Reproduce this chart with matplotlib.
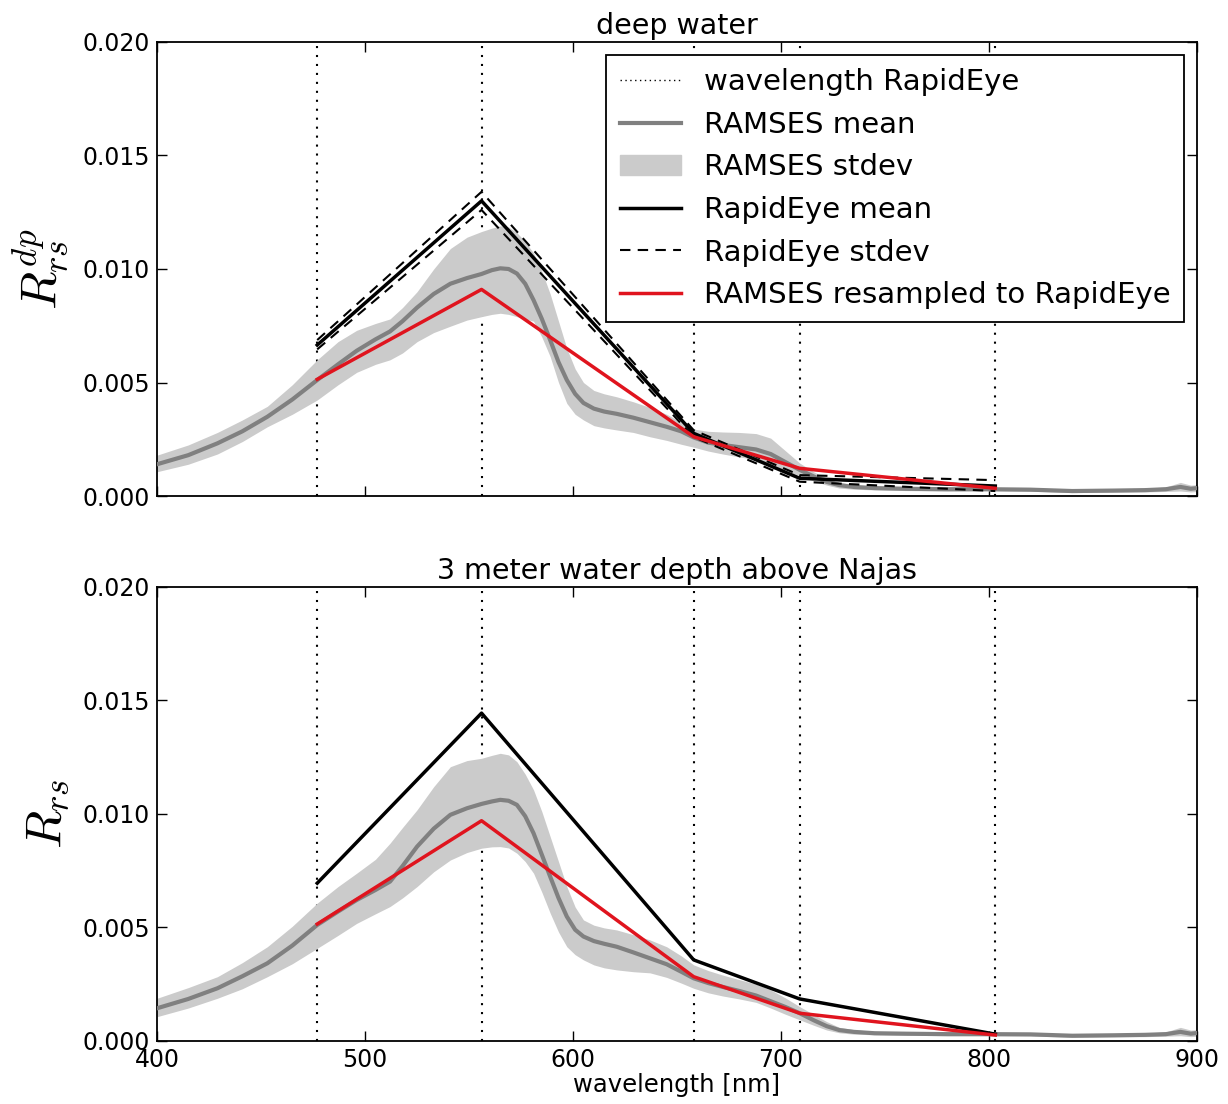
import matplotlib
matplotlib.use("Agg")
import matplotlib.pyplot as plt
from matplotlib.patches import Patch
from matplotlib.lines import Line2D

# ---------------- data ----------------
wl = [400, 415, 429, 441, 453, 465, 477, 487, 496, 505, 512, 518, 525, 533, 541, 549,
      556, 561, 565, 569, 573, 577, 581, 585, 589, 593, 597, 601, 605, 610, 615, 621,
      629, 637, 645, 652, 658, 665, 672, 680, 688, 695, 702, 709, 716, 722, 728, 735,
      745, 760, 780, 800, 820, 840, 860, 875, 885, 892, 897, 900]

deep_mean = [0.00140, 0.00180, 0.00232, 0.00285, 0.00349, 0.00425, 0.00511, 0.00580,
             0.00640, 0.00690, 0.00725, 0.00770, 0.00830, 0.00890, 0.00935, 0.00960,
             0.00978, 0.00995, 0.01003, 0.01000, 0.00980, 0.00935, 0.00863, 0.00780,
             0.00687, 0.00590, 0.00511, 0.00450, 0.00410, 0.00385, 0.00372, 0.00362,
             0.00345, 0.00325, 0.00305, 0.00285, 0.00258, 0.00235, 0.00225, 0.00215,
             0.00205, 0.00185, 0.00150, 0.00115, 0.00085, 0.00062, 0.00048, 0.00040,
             0.00035, 0.00032, 0.00030, 0.00030, 0.00028, 0.00022, 0.00024, 0.00026,
             0.00030, 0.00040, 0.00032, 0.00035]
deep_upper = [0.00180, 0.00225, 0.00280, 0.00335, 0.00395, 0.00490, 0.00600, 0.00680,
              0.00730, 0.00760, 0.00780, 0.00830, 0.00900, 0.01000, 0.01090, 0.01140,
              0.01165, 0.01180, 0.01190, 0.01185, 0.01160, 0.01120, 0.01070, 0.00990,
              0.00890, 0.00770, 0.00650, 0.00560, 0.00500, 0.00465, 0.00450, 0.00437,
              0.00415, 0.00390, 0.00360, 0.00325, 0.00295, 0.00285, 0.00282, 0.00280,
              0.00275, 0.00255, 0.00200, 0.00145, 0.00105, 0.00078, 0.00060, 0.00050,
              0.00043, 0.00040, 0.00038, 0.00037, 0.00035, 0.00030, 0.00032, 0.00034,
              0.00040, 0.00060, 0.00048, 0.00050]
deep_lower = [0.00107, 0.00140, 0.00185, 0.00240, 0.00305, 0.00360, 0.00423, 0.00490,
              0.00545, 0.00580, 0.00600, 0.00630, 0.00680, 0.00720, 0.00748, 0.00775,
              0.00790, 0.00800, 0.00805, 0.00800, 0.00790, 0.00780, 0.00770, 0.00700,
              0.00614, 0.00500, 0.00408, 0.00360, 0.00335, 0.00310, 0.00300, 0.00291,
              0.00280, 0.00261, 0.00245, 0.00228, 0.00215, 0.00198, 0.00185, 0.00172,
              0.00160, 0.00135, 0.00110, 0.00090, 0.00065, 0.00048, 0.00035, 0.00030,
              0.00027, 0.00024, 0.00022, 0.00023, 0.00021, 0.00015, 0.00017, 0.00018,
              0.00020, 0.00022, 0.00018, 0.00020]

najas_mean = [0.00144, 0.00185, 0.00232, 0.00285, 0.00342, 0.00420, 0.00511, 0.00570,
              0.00621, 0.00665, 0.00702, 0.00770, 0.00856, 0.00935, 0.00996, 0.01025,
              0.01044, 0.01055, 0.01062, 0.01058, 0.01040, 0.00990, 0.00915, 0.00820,
              0.00724, 0.00630, 0.00548, 0.00490, 0.00460, 0.00440, 0.00428, 0.00415,
              0.00390, 0.00364, 0.00338, 0.00305, 0.00276, 0.00255, 0.00238, 0.00220,
              0.00200, 0.00175, 0.00150, 0.00122, 0.00090, 0.00065, 0.00048, 0.00040,
              0.00034, 0.00032, 0.00030, 0.00030, 0.00029, 0.00023, 0.00025, 0.00027,
              0.00030, 0.00040, 0.00032, 0.00035]
najas_upper = [0.00188, 0.00235, 0.00283, 0.00345, 0.00415, 0.00505, 0.00607, 0.00680,
               0.00739, 0.00800, 0.00871, 0.00940, 0.01018, 0.01120, 0.01208, 0.01235,
               0.01245, 0.01258, 0.01267, 0.01260, 0.01230, 0.01175, 0.01106, 0.01010,
               0.00900, 0.00790, 0.00680, 0.00590, 0.00533, 0.00510, 0.00498, 0.00489,
               0.00468, 0.00445, 0.00415, 0.00375, 0.00335, 0.00310, 0.00290, 0.00270,
               0.00250, 0.00225, 0.00190, 0.00151, 0.00115, 0.00085, 0.00060, 0.00050,
               0.00042, 0.00040, 0.00038, 0.00037, 0.00036, 0.00030, 0.00032, 0.00035,
               0.00040, 0.00060, 0.00048, 0.00050]
najas_lower = [0.00107, 0.00145, 0.00188, 0.00230, 0.00283, 0.00340, 0.00408, 0.00465,
               0.00518, 0.00560, 0.00592, 0.00630, 0.00680, 0.00745, 0.00797, 0.00830,
               0.00849, 0.00855, 0.00856, 0.00850, 0.00827, 0.00790, 0.00739, 0.00655,
               0.00563, 0.00480, 0.00415, 0.00380, 0.00357, 0.00335, 0.00322, 0.00313,
               0.00305, 0.00300, 0.00280, 0.00255, 0.00232, 0.00212, 0.00198, 0.00185,
               0.00170, 0.00145, 0.00118, 0.00093, 0.00068, 0.00048, 0.00036, 0.00030,
               0.00027, 0.00025, 0.00023, 0.00023, 0.00022, 0.00016, 0.00018, 0.00019,
               0.00021, 0.00023, 0.00019, 0.00021]

bands = [477, 556, 658, 709, 803]
deep_re_mean = [0.00665, 0.01300, 0.00276, 0.00078, 0.00044]
deep_re_upper = [0.00687, 0.01340, 0.00290, 0.00092, 0.00070]
deep_re_lower = [0.00646, 0.01260, 0.00260, 0.00063, 0.00022]
deep_resampled = [0.00514, 0.00910, 0.00261, 0.00122, 0.00034]

najas_re_mean = [0.00695, 0.01444, 0.00357, 0.00185, 0.00030]
najas_resampled = [0.00515, 0.00970, 0.00283, 0.00122, 0.00026]

titles = ["deep water", "3 meter water depth above Najas"]
ylabels = [r"$R_{rs}^{dp}$", r"$R_{rs}$"]
xticks = [400, 500, 600, 700, 800, 900]
yticks = [0.000, 0.005, 0.010, 0.015, 0.020]
legend_labels = ["wavelength RapidEye", "RAMSES mean", "RAMSES stdev", "RapidEye mean",
                 "RapidEye stdev", "RAMSES resampled to RapidEye"]

# ---------------- style ----------------
plt.rcParams['font.family'] = ['DejaVu Sans']
plt.rcParams['mathtext.fontset'] = 'cm'
TICK_FS = 17
TITLE_FS = 20.5
LEG_FS = 21
XLAB_FS = 17.5
YLAB_FS = 36
GRAY = '#808080'
BAND = '#cbcbcb'
RED = '#e0141e'
DOT = (0, (1, 3.3))
DASH = (0, (5, 3.5))

fig = plt.figure(figsize=(12.28, 11.04), dpi=100)
ax1 = fig.add_axes([0.1279, 0.5507, 0.8469, 0.4113])
ax2 = fig.add_axes([0.1279, 0.0571, 0.8469, 0.4113])


def style(ax):
    ax.set_xlim(400, 900)
    ax.set_ylim(0, 0.02)
    ax.set_xticks(xticks)
    ax.set_yticks(yticks)
    ax.set_yticklabels([f"{v:.3f}" for v in yticks])
    ax.tick_params(direction='in', top=True, right=True, length=7, width=1,
                   labelsize=TICK_FS, pad=5)
    for s in ax.spines.values():
        s.set_linewidth(1.3)


# top panel
ax = ax1
for b in bands:
    ax.axvline(b, color='black', ls=DOT, lw=1.5, zorder=1)
ax.fill_between(wl, deep_lower, deep_upper, color=BAND, lw=0, zorder=2)
ax.plot(wl, deep_mean, color=GRAY, lw=3, zorder=3)
ax.plot(bands, deep_re_mean, color='black', lw=2.5, zorder=4)
ax.plot(bands, deep_re_upper, color='black', ls=DASH, lw=1.5, zorder=4)
ax.plot(bands, deep_re_lower, color='black', ls=DASH, lw=1.5, zorder=4)
ax.plot(bands, deep_resampled, color=RED, lw=2.5, zorder=5)
style(ax)
ax.set_xticklabels([])
ax.set_title(titles[0], fontsize=TITLE_FS, pad=6)
ax.set_ylabel(ylabels[0], fontsize=YLAB_FS, labelpad=8)

handles = [Line2D([], [], color='black', ls=(0, (1, 2.5)), lw=1.0),
           Line2D([], [], color=GRAY, lw=3),
           Patch(facecolor=BAND, edgecolor=BAND),
           Line2D([], [], color='black', lw=2.5),
           Line2D([], [], color='black', ls=DASH, lw=1.5),
           Line2D([], [], color=RED, lw=2.5)]
leg = ax.legend(handles, legend_labels, loc='upper right', fontsize=LEG_FS, fancybox=False,
                framealpha=1, edgecolor='black', handlelength=2.1, borderaxespad=0.45,
                labelspacing=0.5, handletextpad=0.8, borderpad=0.45)
leg.get_frame().set_linewidth(1.3)

# bottom panel
ax = ax2
for b in bands:
    ax.axvline(b, color='black', ls=DOT, lw=1.5, zorder=1)
ax.fill_between(wl, najas_lower, najas_upper, color=BAND, lw=0, zorder=2)
ax.plot(wl, najas_mean, color=GRAY, lw=3, zorder=3)
ax.plot(bands, najas_re_mean, color='black', lw=2.5, zorder=4)
ax.plot(bands, najas_resampled, color=RED, lw=2.5, zorder=5)
style(ax)
ax.set_title(titles[1], fontsize=TITLE_FS, pad=6)
ax.set_ylabel(ylabels[1], fontsize=YLAB_FS, labelpad=8)
ax.set_xlabel("wavelength [nm]", fontsize=XLAB_FS, labelpad=1)

fig.savefig("out.png", dpi=100)
